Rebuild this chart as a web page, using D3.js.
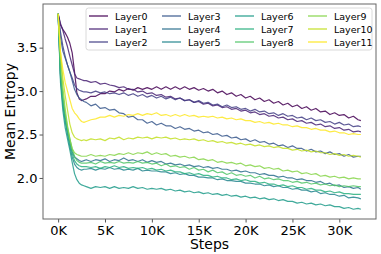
<!DOCTYPE html>
<html>
<head>
<meta charset="utf-8">
<script src="https://cdn.jsdelivr.net/npm/d3@7"></script>
<style>
	body { margin: 0; background: #fff; }
	text { font-family: "DejaVu Sans", sans-serif; fill: #000; }
	.tick line { stroke: #555; }
	.axis_title { font-size: 14px; }
	.tick text { font-size: 13px; }
	.legend_text { font-size: 9.5px; }
</style>
</head>
<body>
<div id="chart"></div>
<script>

// training steps (x values)
const steps = [0,250,500,750,1000,1250,1500,1750,2000,2250,2500,2750,3000,
	3500,4000,4500,5000,5500,6000,6500,7000,7500,8000,
	8500,9000,9500,10000,10500,11000,11500,12000,12500,13000,
	13500,14000,14500,15000,15500,16000,16500,17000,17500,18000,
	18500,19000,19500,20000,20500,21000,21500,22000,22500,23000,
	23500,24000,24500,25000,25500,26000,26500,27000,27500,28000,
	28500,29000,29500,30000,30500,31000,31500,32000,32300];

const layer_names = ["Layer0","Layer1","Layer2","Layer3","Layer4","Layer5",
	"Layer6","Layer7","Layer8","Layer9","Layer10","Layer11"];

// mean entropy per layer
const layer0 = [3.89,3.76,3.71,3.67,3.62,3.55,3.44,3.22,2.98,2.91,2.89,2.90,2.91,
	2.94,2.94,2.97,2.97,3.00,2.99,3.02,3.00,3.03,3.01,
	3.04,3.02,3.04,3.02,3.05,3.02,3.05,3.02,3.05,3.02,
	3.05,3.02,3.04,3.01,3.03,3.00,3.02,2.98,3.00,2.96,
	2.98,2.94,2.96,2.92,2.94,2.90,2.92,2.88,2.90,2.86,
	2.88,2.84,2.86,2.82,2.84,2.80,2.82,2.78,2.80,2.76,
	2.77,2.73,2.75,2.72,2.73,2.69,2.71,2.67,2.66];
const layer1 = [3.89,3.78,3.70,3.60,3.51,3.40,3.30,3.20,3.15,3.14,3.13,3.12,3.12,
	3.10,3.11,3.08,3.09,3.07,3.06,3.04,3.05,3.02,3.02,
	2.99,3.00,2.97,2.98,2.95,2.96,2.93,2.94,2.91,2.92,
	2.89,2.90,2.87,2.88,2.85,2.86,2.83,2.84,2.81,2.82,
	2.79,2.80,2.77,2.78,2.75,2.76,2.73,2.74,2.71,2.72,
	2.69,2.70,2.67,2.68,2.65,2.66,2.63,2.64,2.61,2.62,
	2.59,2.60,2.57,2.58,2.55,2.56,2.53,2.54,2.53];
const layer2 = [3.89,3.68,3.52,3.40,3.30,3.22,3.15,3.07,3.03,3.01,3.00,2.99,2.99,
	2.98,3.00,2.98,2.99,2.97,2.98,2.96,2.98,2.95,2.97,
	2.94,2.96,2.93,2.95,2.92,2.94,2.91,2.93,2.90,2.92,
	2.89,2.90,2.87,2.89,2.86,2.87,2.84,2.85,2.82,2.84,
	2.81,2.82,2.79,2.80,2.77,2.79,2.76,2.77,2.74,2.75,
	2.72,2.74,2.71,2.72,2.69,2.70,2.67,2.69,2.66,2.67,
	2.64,2.65,2.62,2.64,2.61,2.62,2.59,2.60,2.59];
const layer3 = [3.89,3.62,3.46,3.38,3.30,3.22,3.12,3.02,2.96,2.92,2.90,2.88,2.87,
	2.83,2.85,2.80,2.81,2.78,2.79,2.75,2.74,2.70,2.71,
	2.67,2.67,2.63,2.65,2.61,2.63,2.60,2.60,2.57,2.59,
	2.56,2.57,2.54,2.55,2.52,2.53,2.50,2.51,2.48,2.49,
	2.46,2.47,2.44,2.45,2.42,2.44,2.41,2.42,2.39,2.40,
	2.37,2.38,2.35,2.37,2.34,2.34,2.31,2.33,2.30,2.31,
	2.28,2.30,2.27,2.28,2.25,2.27,2.24,2.25,2.25];
const layer4 = [3.89,3.20,2.90,2.70,2.55,2.42,2.30,2.24,2.22,2.20,2.19,2.20,2.21,
	2.19,2.21,2.20,2.22,2.19,2.21,2.20,2.23,2.20,2.21,
	2.19,2.21,2.18,2.20,2.18,2.19,2.16,2.17,2.15,2.16,
	2.14,2.15,2.13,2.14,2.12,2.13,2.11,2.12,2.10,2.10,
	2.08,2.09,2.07,2.08,2.06,2.06,2.04,2.05,2.03,2.03,
	2.01,2.02,2.00,2.00,1.98,1.99,1.97,1.97,1.95,1.96,
	1.93,1.94,1.91,1.92,1.89,1.90,1.88,1.89,1.87];
const layer5 = [3.89,3.15,2.85,2.65,2.50,2.36,2.24,2.16,2.12,2.10,2.09,2.10,2.10,
	2.11,2.09,2.11,2.10,2.12,2.10,2.11,2.09,2.10,2.09,
	2.11,2.08,2.09,2.08,2.08,2.07,2.07,2.05,2.06,2.04,
	2.05,2.03,2.03,2.01,2.01,2.00,2.00,1.98,1.99,1.97,
	1.97,1.96,1.96,1.94,1.94,1.93,1.93,1.91,1.92,1.90,
	1.91,1.89,1.89,1.87,1.88,1.86,1.86,1.84,1.85,1.82,
	1.83,1.81,1.81,1.79,1.80,1.77,1.78,1.77,1.76];
const layer6 = [3.89,3.10,2.78,2.58,2.45,2.32,2.18,2.05,1.98,1.94,1.92,1.91,1.90,
	1.88,1.90,1.89,1.90,1.88,1.90,1.88,1.89,1.88,1.90,
	1.88,1.89,1.87,1.88,1.87,1.88,1.86,1.87,1.85,1.86,
	1.84,1.85,1.83,1.84,1.82,1.83,1.81,1.82,1.80,1.81,
	1.79,1.80,1.78,1.79,1.77,1.78,1.76,1.77,1.75,1.76,
	1.74,1.75,1.73,1.73,1.71,1.72,1.70,1.71,1.69,1.70,
	1.68,1.69,1.67,1.67,1.65,1.66,1.64,1.65,1.64];
const layer7 = [3.89,3.18,2.88,2.68,2.53,2.40,2.28,2.20,2.16,2.14,2.13,2.13,2.13,
	2.12,2.13,2.11,2.13,2.12,2.14,2.12,2.13,2.11,2.12,
	2.11,2.12,2.10,2.11,2.09,2.10,2.08,2.09,2.07,2.07,
	2.05,2.06,2.04,2.05,2.03,2.03,2.01,2.02,2.00,2.00,
	1.98,1.99,1.97,1.98,1.96,1.96,1.94,1.95,1.93,1.93,
	1.91,1.92,1.90,1.91,1.89,1.89,1.87,1.88,1.86,1.86,
	1.84,1.85,1.83,1.84,1.82,1.82,1.81,1.81,1.81];
const layer8 = [3.89,3.25,2.95,2.74,2.58,2.45,2.33,2.25,2.20,2.18,2.17,2.17,2.17,
	2.18,2.16,2.19,2.17,2.18,2.17,2.19,2.17,2.18,2.17,
	2.19,2.17,2.18,2.16,2.17,2.14,2.16,2.13,2.14,2.12,
	2.13,2.10,2.12,2.09,2.10,2.07,2.09,2.06,2.07,2.04,
	2.06,2.03,2.04,2.02,2.03,2.00,2.02,1.99,2.00,1.98,
	1.99,1.97,1.97,1.95,1.96,1.94,1.95,1.93,1.94,1.92,
	1.93,1.91,1.92,1.90,1.91,1.90,1.91,1.90,1.90];
const layer9 = [3.89,3.40,3.05,2.80,2.60,2.45,2.34,2.29,2.27,2.26,2.25,2.25,2.25,
	2.27,2.25,2.26,2.25,2.27,2.26,2.28,2.27,2.29,2.27,
	2.29,2.28,2.30,2.27,2.29,2.27,2.28,2.25,2.26,2.24,
	2.25,2.23,2.24,2.21,2.22,2.20,2.21,2.18,2.19,2.17,
	2.18,2.16,2.17,2.14,2.15,2.13,2.14,2.11,2.12,2.10,
	2.11,2.08,2.09,2.07,2.08,2.05,2.06,2.04,2.05,2.02,
	2.03,2.01,2.02,2.00,2.01,1.99,2.00,1.99,1.99];
const layer10 = [3.89,3.45,3.15,2.95,2.78,2.62,2.52,2.47,2.45,2.44,2.43,2.44,2.43,
	2.45,2.44,2.45,2.43,2.46,2.45,2.47,2.44,2.46,2.45,
	2.47,2.46,2.47,2.45,2.47,2.46,2.47,2.45,2.46,2.44,
	2.45,2.44,2.45,2.43,2.44,2.42,2.43,2.41,2.42,2.40,
	2.41,2.39,2.40,2.38,2.39,2.37,2.38,2.36,2.37,2.35,
	2.36,2.34,2.34,2.32,2.33,2.31,2.32,2.30,2.31,2.29,
	2.29,2.27,2.28,2.26,2.27,2.25,2.26,2.25,2.24];
const layer11 = [3.89,3.45,3.25,3.10,3.00,2.90,2.80,2.75,2.72,2.68,2.65,2.64,2.65,
	2.67,2.68,2.70,2.70,2.72,2.70,2.72,2.71,2.73,2.72,
	2.74,2.72,2.74,2.73,2.75,2.72,2.73,2.71,2.73,2.71,
	2.73,2.71,2.72,2.70,2.71,2.70,2.71,2.69,2.70,2.68,
	2.69,2.67,2.68,2.66,2.66,2.64,2.65,2.63,2.64,2.62,
	2.63,2.61,2.61,2.59,2.60,2.58,2.58,2.56,2.57,2.55,
	2.55,2.53,2.54,2.52,2.52,2.50,2.51,2.50,2.50];

const layer_values = [layer0,layer1,layer2,layer3,layer4,layer5,
	layer6,layer7,layer8,layer9,layer10,layer11];

const x_ticks = [0,5000,10000,15000,20000,25000,30000];
const y_ticks = [2.0,2.5,3.0,3.5];

draw_linechart();

function draw_linechart()
{
	let margin = {top: 4, right: 5, bottom: 35, left: 43};
	let width = 381 - margin.left - margin.right;
	let height = 254 - margin.top - margin.bottom;

	let svg = d3.select("#chart")
		.append("svg")
		.attr("width", 381)
		.attr("height", 254)
		.append("g")
		.attr("transform", "translate(" + margin.left + "," + margin.top + ")");

	// matplotlib style 5% padding around the data
	let all_vals = layer_values.flat();
	let y_min = d3.min(all_vals), y_max = d3.max(all_vals);
	let y_pad = (y_max - y_min) * 0.05;
	let x_max = d3.max(steps);

	let x_scale = d3.scaleLinear()
		.domain([-x_max * 0.05, x_max * 1.05])
		.range([0, width]);

	let y_scale = d3.scaleLinear()
		.domain([y_min - y_pad, y_max + y_pad])
		.range([height, 0]);

	let color = i => d3.interpolateViridis(i / (layer_names.length - 1));

	let line = d3.line()
		.x((d, i) => x_scale(steps[i]))
		.y(d => y_scale(d));

	//draw lines
	svg.selectAll(".layer_line")
		.data(layer_values)
		.enter()
		.append("path")
		.attr("class", "layer_line")
		.attr("fill", "none")
		.attr("stroke", (d, i) => color(i))
		.attr("stroke-opacity", 0.85)
		.attr("stroke-width", 1.2)
		.attr("stroke-linejoin", "round")
		.attr("d", line);

	//x-axis
	let x_axis = d3.axisBottom(x_scale)
		.tickValues(x_ticks)
		.tickFormat(d => (d / 1000) + "K")
		.tickSize(3.5)
		.tickPadding(3)
		.tickSizeOuter(0);

	svg.append("g")
		.attr("class", "x_axis")
		.attr("transform", "translate(0," + height + ")")
		.call(x_axis)
		.call(g => g.select(".domain").remove());

	//y-axis
	let y_axis = d3.axisLeft(y_scale)
		.tickValues(y_ticks)
		.tickFormat(d3.format(".1f"))
		.tickSize(3.5)
		.tickPadding(2)
		.tickSizeOuter(0);

	svg.append("g")
		.attr("class", "y_axis")
		.call(y_axis)
		.call(g => g.select(".domain").remove());

	svg.selectAll(".tick text").attr("fill", "#000");

	//frame
	svg.append("rect")
		.attr("width", width)
		.attr("height", height)
		.attr("fill", "none")
		.attr("stroke", "#666")
		.attr("stroke-width", 1);

	//axis labels
	svg.append("text")
		.attr("class", "axis_title")
		.attr("text-anchor", "middle")
		.attr("x", width / 2)
		.attr("y", height + 30)
		.text("Steps");

	svg.append("text")
		.attr("class", "axis_title")
		.attr("text-anchor", "middle")
		.attr("transform", "translate(" + (-28) + "," + (height / 2) + ") rotate(-90)")
		.text("Mean Entropy");

	draw_legend(svg, color, margin);
}

function draw_legend(svg, color, margin)
{
	// legend: 4 columns of 3 rows
	let legend = svg.append("g")
		.attr("transform", "translate(" + (86 - margin.left) + "," + (8 - margin.top) + ")");

	legend.append("rect")
		.attr("width", 286)
		.attr("height", 42)
		.attr("rx", 2.5)
		.attr("fill", "#fff")
		.attr("fill-opacity", 0.8)
		.attr("stroke", "#d0d0d0")
		.attr("stroke-width", 0.8);

	let col_x = [29, 102, 175, 248];

	let item = legend.selectAll(".legend_item")
		.data(layer_names)
		.enter()
		.append("g")
		.attr("class", "legend_item")
		.attr("transform", (d, i) => "translate(" + col_x[Math.floor(i / 3)] + "," + (8 + (i % 3) * 13) + ")");

	item.append("line")
		.attr("x1", -26)
		.attr("x2", -7)
		.attr("stroke", (d, i) => color(i))
		.attr("stroke-opacity", 0.85)
		.attr("stroke-width", 1.4);

	item.append("text")
		.attr("class", "legend_text")
		.attr("y", 3.5)
		.text(d => d);
}

</script>
</body>
</html>
